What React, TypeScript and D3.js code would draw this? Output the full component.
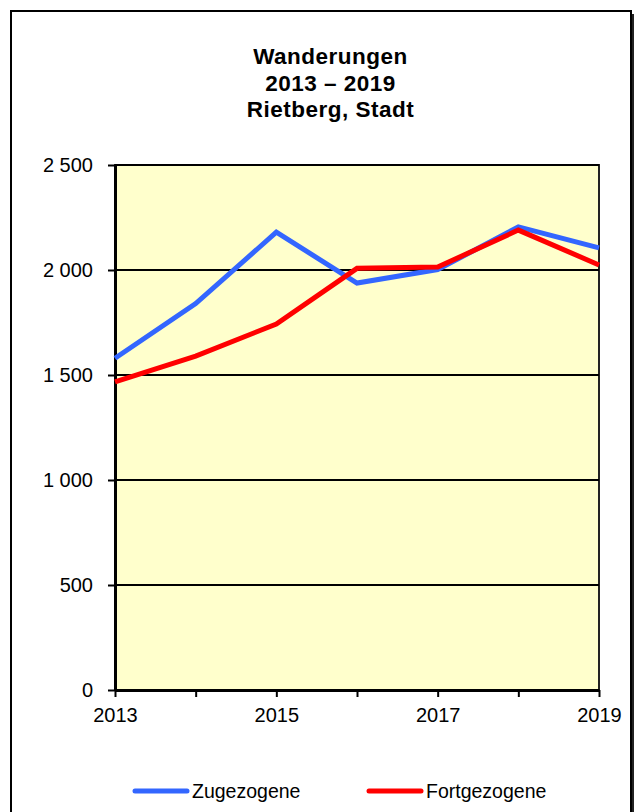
import { useEffect, useRef } from "react";
import * as d3 from "d3";

const years = [2013, 2014, 2015, 2016, 2017, 2018, 2019];
const zugezogene = [1580, 1840, 2180, 1938, 2002, 2205, 2105];
const fortgezogene = [1467, 1590, 1743, 2008, 2014, 2190, 2024];
const yTicks = [0, 500, 1000, 1500, 2000, 2500];
const xLabelYears = [2013, 2015, 2017, 2019];
const titleLines = ["Wanderungen", "2013 – 2019", "Rietberg, Stadt"];

const fmt = (v: number) => d3.format(",")(v).replace(/,/g, " ");
const FONT = "Liberation Sans, Arial, sans-serif";

const App = () => {
  const svgRef = useRef<SVGSVGElement | null>(null);

  useEffect(() => {
    const width = 643;
    const height = 812;
    const margin = { top: 165, left: 115, right: 44, bottom: 122 };
    const innerWidth = width - margin.left - margin.right;
    const innerHeight = height - margin.top - margin.bottom;

    const svg = d3.select(svgRef.current);
    svg.selectAll("*").remove();

    // outer frame with a small shadow on the right
    svg.append("rect")
      .attr("x", 14).attr("y", 14)
      .attr("width", 620).attr("height", 820)
      .attr("fill", "#222");
    svg.append("rect")
      .attr("x", 11).attr("y", 11)
      .attr("width", 620).attr("height", 820)
      .attr("fill", "white")
      .attr("stroke", "black")
      .attr("stroke-width", 2);

    // title
    svg.append("g")
      .selectAll("text")
      .data(titleLines)
      .join("text")
      .attr("x", 330.5)
      .attr("y", (_, i) => 64 + i * 26.5)
      .attr("text-anchor", "middle")
      .attr("font-family", FONT)
      .attr("font-weight", "bold")
      .attr("font-size", 22.5)
      .attr("letter-spacing", 0.5)
      .text((d) => d);

    const g = svg.append("g")
      .attr("transform", `translate(${margin.left}, ${margin.top})`);

    const x = d3.scaleLinear().domain([2013, 2019]).range([0, innerWidth]);
    const y = d3.scaleLinear().domain([0, 2500]).range([innerHeight, 0]);

    // plot background
    g.append("rect")
      .attr("width", innerWidth)
      .attr("height", innerHeight)
      .attr("fill", "#FFFFCC")
      .attr("stroke", "#222")
      .attr("stroke-width", 2);

    // gridlines
    g.append("g")
      .selectAll("line")
      .data(yTicks)
      .join("line")
      .attr("x1", 0).attr("x2", innerWidth)
      .attr("y1", (d) => y(d)).attr("y2", (d) => y(d))
      .attr("stroke", "black")
      .attr("stroke-width", 2);

    // y axis
    const yAxis = g.append("g")
      .call(d3.axisLeft(y).tickValues(yTicks).tickSize(7).tickSizeOuter(0).tickPadding(15).tickFormat((d) => fmt(+d)));
    yAxis.select(".domain").attr("stroke-width", 3);
    yAxis.selectAll(".tick line").attr("stroke-width", 2);
    yAxis.selectAll("text")
      .attr("font-family", FONT)
      .attr("font-size", 20)
      .attr("fill", "black");

    // x axis
    const xAxis = g.append("g")
      .attr("transform", `translate(0, ${innerHeight})`)
      .call(d3.axisBottom(x).tickValues(years).tickSize(7).tickSizeOuter(0).tickPadding(11)
        .tickFormat((d) => (xLabelYears.includes(+d) ? String(d) : "")));
    xAxis.select(".domain").attr("stroke-width", 3);
    xAxis.selectAll(".tick line").attr("stroke-width", 2);
    xAxis.selectAll("text")
      .attr("font-family", FONT)
      .attr("font-size", 20)
      .attr("fill", "black");

    const line = d3.line<number>()
      .x((_, i) => x(years[i]))
      .y((d) => y(d));

    const series = [
      { name: "Zugezogene", values: zugezogene, color: "#3366FF" },
      { name: "Fortgezogene", values: fortgezogene, color: "#FF0000" },
    ];

    series.forEach((s) => {
      g.append("path")
        .datum(s.values)
        .attr("d", line)
        .attr("fill", "none")
        .attr("stroke", s.color)
        .attr("stroke-width", 5)
        .attr("stroke-linejoin", "miter");
    });

    // legend
    const legend = svg.append("g").attr("transform", "translate(0, 791)");
    const legendX = [135, 369];
    series.forEach((s, i) => {
      legend.append("line")
        .attr("x1", legendX[i]).attr("x2", legendX[i] + 52)
        .attr("y1", 0).attr("y2", 0)
        .attr("stroke", s.color)
        .attr("stroke-width", 5)
        .attr("stroke-linecap", "round");
      legend.append("text")
        .attr("x", legendX[i] + 57)
        .attr("y", 6.5)
        .attr("font-family", FONT)
        .attr("font-size", 19.5)
        .text(s.name);
    });
  }, []);

  return (
    <svg
      ref={svgRef}
      width={643}
      height={812}
      style={{ position: "absolute", left: 0, top: 0 }}
    />
  );
};

export default App;
